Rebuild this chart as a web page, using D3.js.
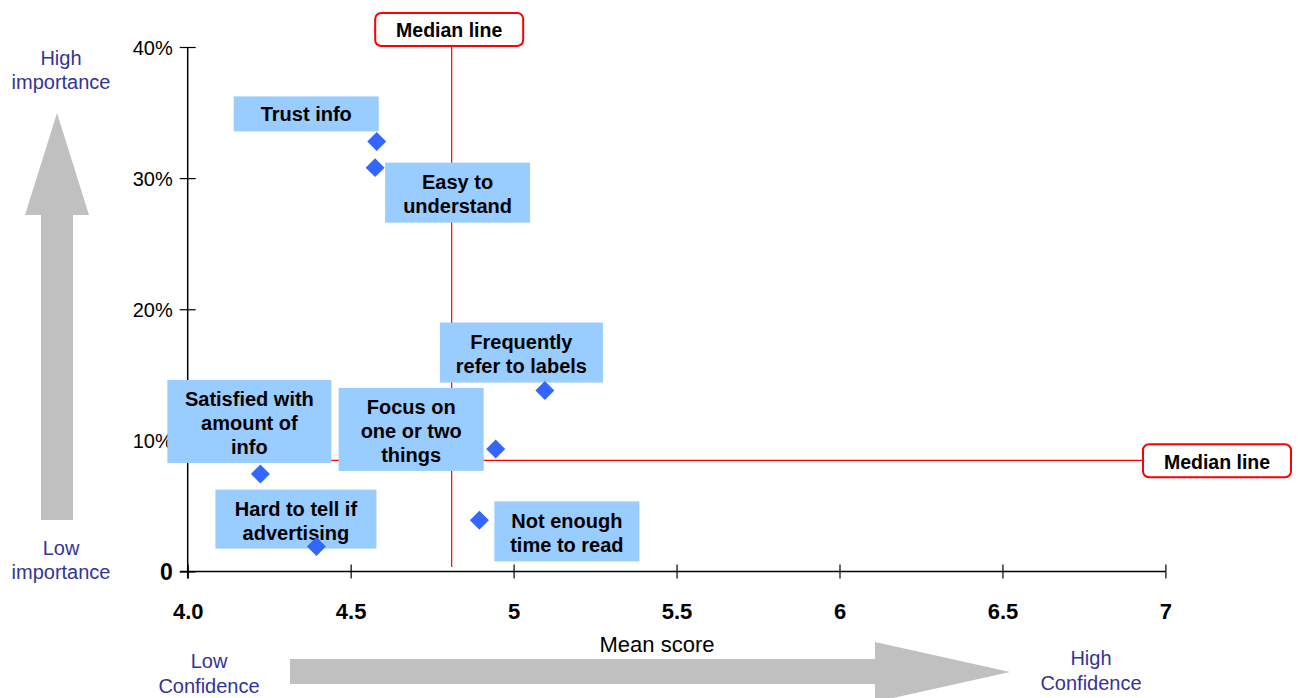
<!DOCTYPE html>
<html>
<head>
<meta charset="utf-8">
<script src="https://cdn.jsdelivr.net/npm/d3@7"></script>
<style>
  html, body { margin: 0; padding: 0; background: #fff; }
  svg { display: block; font-family: "Liberation Sans", Arial, Helvetica, sans-serif; }
</style>
</head>
<body>
<svg id="chart" width="1298" height="698"></svg>
<script>
// Survey attributes: confidence (mean score) vs. importance (share of respondents)
const categories = [
  "Trust info",
  "Easy to understand",
  "Frequently refer to labels",
  "Focus on one or two things",
  "Satisfied with amount of info",
  "Not enough time to read",
  "Hard to tell if advertising"
];
const meanScores = [4.58, 4.575, 5.096, 4.945, 4.223, 4.895, 4.395];
const importance = [32.8, 30.8, 13.8, 9.35, 7.44, 3.9, 1.9];

// Wrapped text for each label box
const labelLines = [
  ["Trust info"],
  ["Easy to", "understand"],
  ["Frequently", "refer to labels"],
  ["Focus on", "one or two", "things"],
  ["Satisfied with", "amount of", "info"],
  ["Not enough", "time to read"],
  ["Hard to tell if", "advertising"]
];

const medianScore = 4.81;
const medianImportance = 8.48;

const xTicks = [4.0, 4.5, 5, 5.5, 6, 6.5, 7];
const xTickLabels = ["4.0", "4.5", "5", "5.5", "6", "6.5", "7"];
const yTicks = [0, 10, 20, 30, 40];
const yTickLabels = ["0", "10%", "20%", "30%", "40%"];

// Label box placement relative to its point: centre offset and size (px)
const boxLayout = [
  { dx: -70.5, dy: -27.5, w: 145, h: 35 },
  { dx: 82.5, dy: 25, w: 145, h: 60 },
  { dx: -23.5, dy: -38, w: 163, h: 60 },
  { dx: -84.5, dy: -19.5, w: 145, h: 83 },
  { dx: -11, dy: -52.5, w: 164, h: 83 },
  { dx: 87.5, dy: 11, w: 145, h: 60 },
  { dx: -20.5, dy: -27.5, w: 161, h: 59 }
];

const svg = d3.select("#chart");

const x = d3.scaleLinear().domain([4, 7]).range([187.7, 1165.4]);
const y = d3.scaleLinear().domain([0, 40]).range([571.5, 47]);

const blue = "#333399";
const grey = "#c0c0c0";

// Decorative direction arrows
svg.append("polygon")
  .attr("points", "41,520 73,520 73,215 89,215 57,113 25,215 41,215")
  .attr("fill", grey);
svg.append("polygon")
  .attr("points", "290,659 875,659 875,642 1010,672 875,702 875,684 290,684")
  .attr("fill", grey);

// Corner descriptions
function multiText(cx, cy, lines, lh, color) {
  const t = svg.append("text")
    .attr("text-anchor", "middle")
    .attr("fill", color)
    .style("font-size", "20px");
  lines.forEach((s, i) => {
    t.append("tspan").attr("x", cx).attr("y", cy + i * lh + 7).text(s);
  });
}
multiText(61, 58, ["High", "importance"], 23.5, blue);
multiText(61, 548, ["Low", "importance"], 24, blue);
multiText(209, 661, ["Low", "Confidence"], 24.5, blue);
multiText(1091, 658, ["High", "Confidence"], 25, blue);

// Axes
const xAxis = d3.axisBottom(x).tickValues(xTicks).tickSize(7)
  .tickFormat((d, i) => xTickLabels[i]);
const gx = svg.append("g").attr("transform", `translate(0,${y(0)})`).call(xAxis);
gx.select(".domain").attr("d", `M180,0H${x(7)}`).attr("stroke", "#000").attr("stroke-width", 1.5);
gx.selectAll(".tick line").attr("y1", -7).attr("y2", 7).attr("stroke", "#000").attr("stroke-width", 1.2);
gx.selectAll(".tick text")
  .attr("y", 40).attr("dy", "0.35em")
  .attr("fill", "#000")
  .style("font-size", "22px").style("font-weight", "bold")
  .style("font-family", "'Liberation Sans', Arial, sans-serif");

const yAxis = d3.axisLeft(y).tickValues(yTicks).tickSize(8)
  .tickFormat((d, i) => yTickLabels[i]);
const gy = svg.append("g").attr("transform", `translate(${x(4)},0)`).call(yAxis);
gy.select(".domain").attr("d", `M0,${y(40)}V${y(0) + 7}`).attr("stroke", "#000").attr("stroke-width", 1.5);
gy.selectAll(".tick line").attr("x1", -8).attr("x2", 8).attr("stroke", "#000").attr("stroke-width", 1.2);
gy.selectAll(".tick text")
  .attr("x", -15).attr("dy", "0.35em")
  .attr("fill", "#000")
  .style("font-size", d => d === 0 ? "23px" : "20px")
  .style("font-weight", d => d === 0 ? "bold" : "normal")
  .style("font-family", "'Liberation Sans', Arial, sans-serif");

svg.append("text")
  .attr("x", 657).attr("y", 644).attr("dy", "0.35em")
  .attr("text-anchor", "middle")
  .style("font-size", "22px")
  .text("Mean score");

// Median lines
svg.append("line")
  .attr("x1", x(medianScore)).attr("x2", x(medianScore))
  .attr("y1", 46).attr("y2", 567)
  .attr("stroke", "#ff0000").attr("stroke-width", 1.2);
svg.append("line")
  .attr("x1", x(4)).attr("x2", 1143)
  .attr("y1", y(medianImportance)).attr("y2", y(medianImportance))
  .attr("stroke", "#ff0000").attr("stroke-width", 1.2);

function medianTag(cx, cy) {
  svg.append("rect")
    .attr("x", cx - 74).attr("y", cy - 16.5).attr("width", 148).attr("height", 33)
    .attr("rx", 6).attr("ry", 6)
    .attr("fill", "#fff").attr("stroke", "#ff0000").attr("stroke-width", 2);
  svg.append("text")
    .attr("x", cx).attr("y", cy + 1).attr("dy", "0.35em")
    .attr("text-anchor", "middle")
    .style("font-size", "19.5px").style("font-weight", "bold")
    .text("Median line");
}
medianTag(x(medianScore) - 2.5, 29.5);
medianTag(1217, y(medianImportance) + 0.5);

// Label boxes
const pts = categories.map((c, i) => ({
  name: c, score: meanScores[i], imp: importance[i], lines: labelLines[i], box: boxLayout[i]
}));

const labels = svg.append("g").selectAll("g").data(pts).join("g")
  .attr("transform", d => `translate(${x(d.score) + d.box.dx},${y(d.imp) + d.box.dy})`);
labels.append("rect")
  .attr("x", d => -d.box.w / 2).attr("y", d => -d.box.h / 2)
  .attr("width", d => d.box.w).attr("height", d => d.box.h)
  .attr("fill", "#99ccff");
labels.append("text")
  .attr("text-anchor", "middle")
  .style("font-size", "20px").style("font-weight", "bold")
  .each(function (d) {
    const lh = 24;
    const n = d.lines.length;
    d3.select(this).selectAll("tspan").data(d.lines).join("tspan")
      .attr("x", 0)
      .attr("y", (s, i) => (i - (n - 1) / 2) * lh + (n > 1 ? 1.5 : 0.5))
      .attr("dy", "0.35em")
      .text(s => s);
  });

// Points
svg.append("g").selectAll("path").data(pts).join("path")
  .attr("d", d3.symbol().type(d3.symbolSquare).size(180))
  .attr("transform", d => `translate(${x(d.score)},${y(d.imp)}) rotate(45)`)
  .attr("fill", "#3366ff");
</script>
</body>
</html>
